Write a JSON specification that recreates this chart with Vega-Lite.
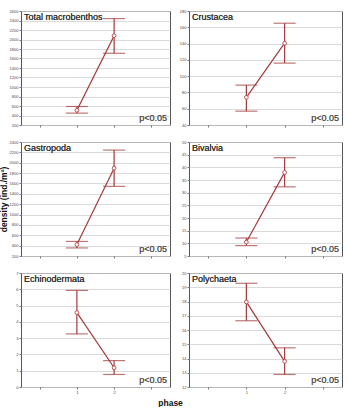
{
  "$schema": "https://vega.github.io/schema/vega-lite/v6.json",
  "background": "white",
  "padding": {"left": -2, "top": 8, "right": 2, "bottom": 0},
  "title": {"text": "phase", "orient": "bottom", "anchor": "middle", "fontSize": 8.5, "fontWeight": "bold", "font": "Liberation Sans", "color": "#111", "offset": 4},
  "datasets": {
    "macro": [
      {"taxon": "Total macrobenthos", "phase": 1, "mean": 510, "lo": 450, "hi": 590},
      {"taxon": "Total macrobenthos", "phase": 2, "mean": 2080, "lo": 1710, "hi": 2440},
      {"taxon": "Crustacea", "phase": 1, "mean": 74, "lo": 57, "hi": 89},
      {"taxon": "Crustacea", "phase": 2, "mean": 140.5, "lo": 116, "hi": 165},
      {"taxon": "Gastropoda", "phase": 1, "mean": 420, "lo": 356, "hi": 481},
      {"taxon": "Gastropoda", "phase": 2, "mean": 1895, "lo": 1544, "hi": 2244},
      {"taxon": "Bivalvia", "phase": 1, "mean": 10.5, "lo": 9.1, "hi": 12.1},
      {"taxon": "Bivalvia", "phase": 2, "mean": 38, "lo": 32.3, "hi": 43.8},
      {"taxon": "Echinodermata", "phase": 1, "mean": 4.57, "lo": 3.26, "hi": 5.93},
      {"taxon": "Echinodermata", "phase": 2, "mean": 1.18, "lo": 0.77, "hi": 1.62},
      {"taxon": "Polychaeta", "phase": 1, "mean": 17.97, "lo": 16.65, "hi": 19.28},
      {"taxon": "Polychaeta", "phase": 2, "mean": 13.8, "lo": 12.88, "hi": 14.75}
    ]
  },
  "columns": 2,
  "spacing": {"row": 11, "column": 7},
  "concat": [
    {
      "width": 149, "height": 114,
      "data": {"name": "macro"},
      "transform": [{"filter": "datum.taxon === 'Total macrobenthos'"}],
      "encoding": {"x": {"field": "phase", "type": "quantitative", "scale": {"domain": [-0.5, 3.5], "nice": false, "zero": false}, "axis": {"values": [0, 1, 2, 3], "tickCount": 10, "labels": false, "title": null, "grid": false}}},
      "layer": [
        {"mark": {"type": "rule", "color": "#a33a3a", "strokeWidth": 1.2}, "encoding": {"y": {"field": "lo", "type": "quantitative", "scale": {"domain": [200, 2600], "nice": false, "zero": false}, "axis": {"title": null, "format": "d", "tickCount": 30, "values": [200, 400, 600, 800, 1000, 1200, 1400, 1600, 1800, 2000, 2200, 2400, 2600]}}, "y2": {"field": "hi"}}},
        {"mark": {"type": "tick", "orient": "horizontal", "color": "#a33a3a", "size": 22, "thickness": 1.2}, "encoding": {"y": {"field": "lo", "type": "quantitative"}}},
        {"mark": {"type": "tick", "orient": "horizontal", "color": "#a33a3a", "size": 22, "thickness": 1.2}, "encoding": {"y": {"field": "hi", "type": "quantitative"}}},
        {"mark": {"type": "line", "color": "#a33a3a", "strokeWidth": 1.2}, "encoding": {"y": {"field": "mean", "type": "quantitative"}}},
        {"mark": {"type": "point", "shape": "circle", "filled": true, "fill": "white", "stroke": "#c05050", "strokeWidth": 1, "size": 14, "opacity": 1}, "encoding": {"y": {"field": "mean", "type": "quantitative"}}},
        {"mark": {"type": "text", "align": "left", "baseline": "top", "dx": 3, "dy": 2, "fontSize": 9, "fontWeight": "normal", "font": "Liberation Sans", "color": "#333"}, "encoding": {"x": {"datum": -0.5}, "y": {"datum": 2600}, "text": {"value": "Total macrobenthos"}}},
        {"mark": {"type": "text", "align": "right", "baseline": "bottom", "dx": -3, "dy": -2, "fontSize": 9, "fontWeight": "normal", "font": "Liberation Sans", "color": "#555"}, "encoding": {"x": {"datum": 3.5}, "y": {"datum": 200}, "text": {"value": "p<0.05"}}}
      ]
    },
    {
      "width": 153, "height": 114,
      "data": {"name": "macro"},
      "transform": [{"filter": "datum.taxon === 'Crustacea'"}],
      "encoding": {"x": {"field": "phase", "type": "quantitative", "scale": {"domain": [-0.5, 3.5], "nice": false, "zero": false}, "axis": {"values": [0, 1, 2, 3], "tickCount": 10, "labels": false, "title": null, "grid": false}}},
      "layer": [
        {"mark": {"type": "rule", "color": "#a33a3a", "strokeWidth": 1.2}, "encoding": {"y": {"field": "lo", "type": "quantitative", "scale": {"domain": [40, 180], "nice": false, "zero": false}, "axis": {"title": null, "format": "d", "tickCount": 30, "values": [40, 60, 80, 100, 120, 140, 160, 180]}}, "y2": {"field": "hi"}}},
        {"mark": {"type": "tick", "orient": "horizontal", "color": "#a33a3a", "size": 22, "thickness": 1.2}, "encoding": {"y": {"field": "lo", "type": "quantitative"}}},
        {"mark": {"type": "tick", "orient": "horizontal", "color": "#a33a3a", "size": 22, "thickness": 1.2}, "encoding": {"y": {"field": "hi", "type": "quantitative"}}},
        {"mark": {"type": "line", "color": "#a33a3a", "strokeWidth": 1.2}, "encoding": {"y": {"field": "mean", "type": "quantitative"}}},
        {"mark": {"type": "point", "shape": "circle", "filled": true, "fill": "white", "stroke": "#c05050", "strokeWidth": 1, "size": 14, "opacity": 1}, "encoding": {"y": {"field": "mean", "type": "quantitative"}}},
        {"mark": {"type": "text", "align": "left", "baseline": "top", "dx": 3, "dy": 2, "fontSize": 9, "fontWeight": "normal", "font": "Liberation Sans", "color": "#333"}, "encoding": {"x": {"datum": -0.5}, "y": {"datum": 180}, "text": {"value": "Crustacea"}}},
        {"mark": {"type": "text", "align": "right", "baseline": "bottom", "dx": -3, "dy": -2, "fontSize": 9, "fontWeight": "normal", "font": "Liberation Sans", "color": "#555"}, "encoding": {"x": {"datum": 3.5}, "y": {"datum": 40}, "text": {"value": "p<0.05"}}}
      ]
    },
    {
      "width": 149, "height": 114,
      "data": {"name": "macro"},
      "transform": [{"filter": "datum.taxon === 'Gastropoda'"}],
      "encoding": {"x": {"field": "phase", "type": "quantitative", "scale": {"domain": [-0.5, 3.5], "nice": false, "zero": false}, "axis": {"values": [0, 1, 2, 3], "tickCount": 10, "labels": false, "title": null, "grid": false}}},
      "layer": [
        {"mark": {"type": "rule", "color": "#a33a3a", "strokeWidth": 1.2}, "encoding": {"y": {"field": "lo", "type": "quantitative", "scale": {"domain": [200, 2400], "nice": false, "zero": false}, "axis": {"title": "density (ind./m²)", "format": "d", "tickCount": 30, "values": [200, 400, 600, 800, 1000, 1200, 1400, 1600, 1800, 2000, 2200, 2400]}}, "y2": {"field": "hi"}}},
        {"mark": {"type": "tick", "orient": "horizontal", "color": "#a33a3a", "size": 22, "thickness": 1.2}, "encoding": {"y": {"field": "lo", "type": "quantitative"}}},
        {"mark": {"type": "tick", "orient": "horizontal", "color": "#a33a3a", "size": 22, "thickness": 1.2}, "encoding": {"y": {"field": "hi", "type": "quantitative"}}},
        {"mark": {"type": "line", "color": "#a33a3a", "strokeWidth": 1.2}, "encoding": {"y": {"field": "mean", "type": "quantitative"}}},
        {"mark": {"type": "point", "shape": "circle", "filled": true, "fill": "white", "stroke": "#c05050", "strokeWidth": 1, "size": 14, "opacity": 1}, "encoding": {"y": {"field": "mean", "type": "quantitative"}}},
        {"mark": {"type": "text", "align": "left", "baseline": "top", "dx": 3, "dy": 2, "fontSize": 9, "fontWeight": "normal", "font": "Liberation Sans", "color": "#333"}, "encoding": {"x": {"datum": -0.5}, "y": {"datum": 2400}, "text": {"value": "Gastropoda"}}},
        {"mark": {"type": "text", "align": "right", "baseline": "bottom", "dx": -3, "dy": -2, "fontSize": 9, "fontWeight": "normal", "font": "Liberation Sans", "color": "#555"}, "encoding": {"x": {"datum": 3.5}, "y": {"datum": 200}, "text": {"value": "p<0.05"}}}
      ]
    },
    {
      "width": 153, "height": 114,
      "data": {"name": "macro"},
      "transform": [{"filter": "datum.taxon === 'Bivalvia'"}],
      "encoding": {"x": {"field": "phase", "type": "quantitative", "scale": {"domain": [-0.5, 3.5], "nice": false, "zero": false}, "axis": {"values": [0, 1, 2, 3], "tickCount": 10, "labels": false, "title": null, "grid": false}}},
      "layer": [
        {"mark": {"type": "rule", "color": "#a33a3a", "strokeWidth": 1.2}, "encoding": {"y": {"field": "lo", "type": "quantitative", "scale": {"domain": [5, 50], "nice": false, "zero": false}, "axis": {"title": null, "format": "d", "tickCount": 30, "values": [5, 10, 15, 20, 25, 30, 35, 40, 45, 50]}}, "y2": {"field": "hi"}}},
        {"mark": {"type": "tick", "orient": "horizontal", "color": "#a33a3a", "size": 22, "thickness": 1.2}, "encoding": {"y": {"field": "lo", "type": "quantitative"}}},
        {"mark": {"type": "tick", "orient": "horizontal", "color": "#a33a3a", "size": 22, "thickness": 1.2}, "encoding": {"y": {"field": "hi", "type": "quantitative"}}},
        {"mark": {"type": "line", "color": "#a33a3a", "strokeWidth": 1.2}, "encoding": {"y": {"field": "mean", "type": "quantitative"}}},
        {"mark": {"type": "point", "shape": "circle", "filled": true, "fill": "white", "stroke": "#c05050", "strokeWidth": 1, "size": 14, "opacity": 1}, "encoding": {"y": {"field": "mean", "type": "quantitative"}}},
        {"mark": {"type": "text", "align": "left", "baseline": "top", "dx": 3, "dy": 2, "fontSize": 9, "fontWeight": "normal", "font": "Liberation Sans", "color": "#333"}, "encoding": {"x": {"datum": -0.5}, "y": {"datum": 50}, "text": {"value": "Bivalvia"}}},
        {"mark": {"type": "text", "align": "right", "baseline": "bottom", "dx": -3, "dy": -2, "fontSize": 9, "fontWeight": "normal", "font": "Liberation Sans", "color": "#555"}, "encoding": {"x": {"datum": 3.5}, "y": {"datum": 5}, "text": {"value": "p<0.05"}}}
      ]
    },
    {
      "width": 149, "height": 114,
      "data": {"name": "macro"},
      "transform": [{"filter": "datum.taxon === 'Echinodermata'"}],
      "encoding": {"x": {"field": "phase", "type": "quantitative", "scale": {"domain": [-0.5, 3.5], "nice": false, "zero": false}, "axis": {"values": [0, 1, 2, 3], "tickCount": 10, "format": "d", "labelExpr": "datum.value === 1 || datum.value === 2 ? datum.label : ''", "title": null, "grid": false}}},
      "layer": [
        {"mark": {"type": "rule", "color": "#a33a3a", "strokeWidth": 1.2}, "encoding": {"y": {"field": "lo", "type": "quantitative", "scale": {"domain": [0, 7], "nice": false, "zero": false}, "axis": {"title": null, "format": "d", "tickCount": 30, "values": [0, 1, 2, 3, 4, 5, 6, 7]}}, "y2": {"field": "hi"}}},
        {"mark": {"type": "tick", "orient": "horizontal", "color": "#a33a3a", "size": 22, "thickness": 1.2}, "encoding": {"y": {"field": "lo", "type": "quantitative"}}},
        {"mark": {"type": "tick", "orient": "horizontal", "color": "#a33a3a", "size": 22, "thickness": 1.2}, "encoding": {"y": {"field": "hi", "type": "quantitative"}}},
        {"mark": {"type": "line", "color": "#a33a3a", "strokeWidth": 1.2}, "encoding": {"y": {"field": "mean", "type": "quantitative"}}},
        {"mark": {"type": "point", "shape": "circle", "filled": true, "fill": "white", "stroke": "#c05050", "strokeWidth": 1, "size": 14, "opacity": 1}, "encoding": {"y": {"field": "mean", "type": "quantitative"}}},
        {"mark": {"type": "text", "align": "left", "baseline": "top", "dx": 3, "dy": 2, "fontSize": 9, "fontWeight": "normal", "font": "Liberation Sans", "color": "#333"}, "encoding": {"x": {"datum": -0.5}, "y": {"datum": 7}, "text": {"value": "Echinodermata"}}},
        {"mark": {"type": "text", "align": "right", "baseline": "bottom", "dx": -3, "dy": -2, "fontSize": 9, "fontWeight": "normal", "font": "Liberation Sans", "color": "#555"}, "encoding": {"x": {"datum": 3.5}, "y": {"datum": 0}, "text": {"value": "p<0.05"}}}
      ]
    },
    {
      "width": 153, "height": 114,
      "data": {"name": "macro"},
      "transform": [{"filter": "datum.taxon === 'Polychaeta'"}],
      "encoding": {"x": {"field": "phase", "type": "quantitative", "scale": {"domain": [-0.5, 3.5], "nice": false, "zero": false}, "axis": {"values": [0, 1, 2, 3], "tickCount": 10, "format": "d", "labelExpr": "datum.value === 1 || datum.value === 2 ? datum.label : ''", "title": null, "grid": false}}},
      "layer": [
        {"mark": {"type": "rule", "color": "#a33a3a", "strokeWidth": 1.2}, "encoding": {"y": {"field": "lo", "type": "quantitative", "scale": {"domain": [12, 20], "nice": false, "zero": false}, "axis": {"title": null, "format": "d", "tickCount": 30, "values": [12, 13, 14, 15, 16, 17, 18, 19, 20]}}, "y2": {"field": "hi"}}},
        {"mark": {"type": "tick", "orient": "horizontal", "color": "#a33a3a", "size": 22, "thickness": 1.2}, "encoding": {"y": {"field": "lo", "type": "quantitative"}}},
        {"mark": {"type": "tick", "orient": "horizontal", "color": "#a33a3a", "size": 22, "thickness": 1.2}, "encoding": {"y": {"field": "hi", "type": "quantitative"}}},
        {"mark": {"type": "line", "color": "#a33a3a", "strokeWidth": 1.2}, "encoding": {"y": {"field": "mean", "type": "quantitative"}}},
        {"mark": {"type": "point", "shape": "circle", "filled": true, "fill": "white", "stroke": "#c05050", "strokeWidth": 1, "size": 14, "opacity": 1}, "encoding": {"y": {"field": "mean", "type": "quantitative"}}},
        {"mark": {"type": "text", "align": "left", "baseline": "top", "dx": 3, "dy": 2, "fontSize": 9, "fontWeight": "normal", "font": "Liberation Sans", "color": "#333"}, "encoding": {"x": {"datum": -0.5}, "y": {"datum": 20}, "text": {"value": "Polychaeta"}}},
        {"mark": {"type": "text", "align": "right", "baseline": "bottom", "dx": -3, "dy": -2, "fontSize": 9, "fontWeight": "normal", "font": "Liberation Sans", "color": "#555"}, "encoding": {"x": {"datum": 3.5}, "y": {"datum": 12}, "text": {"value": "p<0.05"}}}
      ]
    }
  ],
  "config": {
    "font": "Liberation Sans",
    "view": {"stroke": "#555", "strokeWidth": 1},
    "axis": {
      "domain": false,
      "labelFontSize": 4,
      "labelColor": "#444",
      "labelPadding": 1,
      "labelOverlap": false,
      "tickSize": 2,
      "tickColor": "#555",
      "tickWidth": 0.8,
      "titleFontSize": 8.5,
      "titleFontWeight": "bold",
      "titleColor": "#111",
      "titlePadding": 1
    },
    "axisY": {"grid": true, "gridColor": "#d0d0d0", "gridWidth": 0.8, "labelFlush": false},
    "axisX": {"labelFlush": false}
  }
}
